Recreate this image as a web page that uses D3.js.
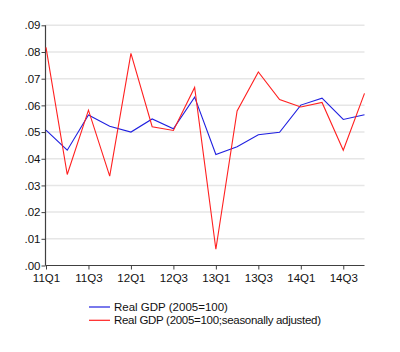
<!DOCTYPE html>
<html><head><meta charset="utf-8">
<script src="https://cdn.jsdelivr.net/npm/d3@7"></script>
<style>body{margin:0;background:#fff;}svg{display:block;}</style>
</head><body>
<script>
const quarters = ["11Q1","11Q2","11Q3","11Q4","12Q1","12Q2","12Q3","12Q4","13Q1","13Q2","13Q3","13Q4","14Q1","14Q2","14Q3","14Q4"];
const realGDP = [0.0507,0.0432,0.0564,0.0522,0.0500,0.0549,0.0512,0.0631,0.0416,0.0445,0.0490,0.0499,0.0601,0.0627,0.0547,0.0565];
const realGDPsa = [0.0817,0.0341,0.0582,0.0335,0.0795,0.0520,0.0506,0.0667,0.0061,0.0579,0.0725,0.0622,0.0594,0.0611,0.0432,0.0645];
const yTicks = [0,0.01,0.02,0.03,0.04,0.05,0.06,0.07,0.08,0.09];
const xTickLabels = ["11Q1","11Q3","12Q1","12Q3","13Q1","13Q3","14Q1","14Q3"];
const seriesNames = ["Real GDP (2005=100)","Real GDP (2005=100;seasonally adjusted)"];
const colors = ["#2020e0","#ff2020"];

const W=400,H=352;
const svg=d3.select("body").append("svg").attr("width",W).attr("height",H);
const mL=45.5,mR=364.5,mT=25.3,mB=265.5;
const x=d3.scalePoint().domain(quarters).range([mL+0.5,mR]);
const y=d3.scaleLinear().domain([0,0.09]).range([mB,mT]);
const font="'Liberation Sans', Arial, sans-serif";
const fs=11.5;

// gridlines
svg.append("g").selectAll("line").data(yTicks.slice(1)).join("line")
  .attr("x1",mL).attr("x2",mR).attr("y1",d=>y(d)).attr("y2",d=>y(d))
  .attr("stroke","#e6e6e6").attr("stroke-width",1.5);

const yAxis=svg.append("g").attr("transform",`translate(${mL},0)`)
  .call(d3.axisLeft(y).tickValues(yTicks).tickSize(4).tickFormat(d=>d3.format(".2f")(d).replace(/^0/,"")));
const xAxis=svg.append("g").attr("transform",`translate(0,${mB})`)
  .call(d3.axisBottom(x).tickValues(xTickLabels).tickSize(4));
[yAxis,xAxis].forEach(a=>{
  a.select(".domain").attr("stroke","#404040").attr("stroke-width",1.2);
  a.selectAll(".tick line").attr("stroke","#404040");
  a.selectAll("text").attr("font-family",font).attr("font-size",fs).attr("fill","#111");
});
yAxis.select(".domain").attr("d",`M0,${mB}V${mT}`);
xAxis.select(".domain").attr("d",`M${mL},0H${mR}`);
yAxis.selectAll(".tick text").attr("x",-5);
xAxis.selectAll(".tick text").attr("y",8);

const line=d3.line().x((d,i)=>x(quarters[i])).y(d=>y(d));
[realGDP,realGDPsa].forEach((s,k)=>{
  svg.append("path").datum(s).attr("d",line).attr("fill","none")
    .attr("stroke",colors[k]).attr("stroke-width",1.1);
});

// legend
const lg=svg.append("g");
seriesNames.forEach((n,k)=>{
  const yy=307+k*13.3;
  lg.append("line").attr("x1",89).attr("x2",110).attr("y1",yy).attr("y2",yy).attr("stroke",colors[k]).attr("stroke-width",1.2);
  lg.append("text").attr("x",114).attr("y",yy+4).attr("font-family",font).attr("font-size",fs)
    .attr("textLength", k===1 ? 207 : null).attr("fill","#111").text(n);
});
</script>
</body></html>
